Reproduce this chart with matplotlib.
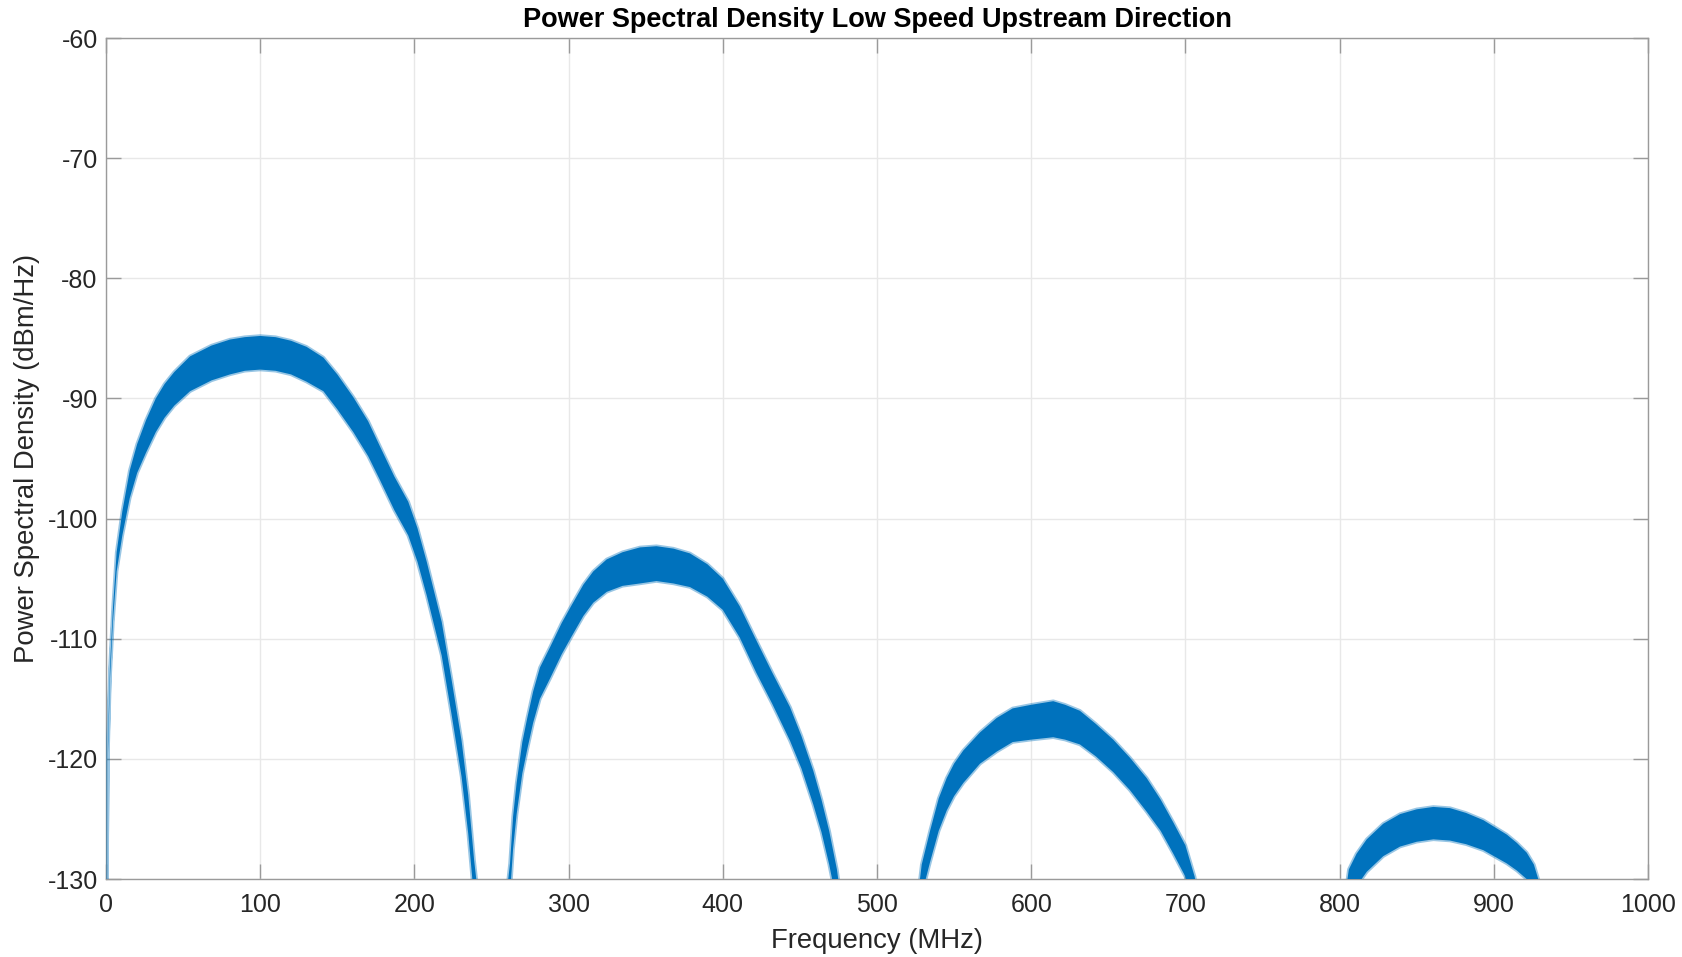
import numpy as np
import matplotlib.pyplot as plt

plt.rcParams['font.family'] = ['Liberation Sans', 'DejaVu Sans']
plt.rcParams['axes.unicode_minus'] = False

# PSD band: frequency (MHz), lower and upper edge (dBm/Hz)
# NaN rows separate the four lobes
freq_mhz = [0.0, 1.3, 2.6, 4.5, 6.9, 10.6, 15.4, 20.2, 26.0, 32.3, 38.0, 44.3, 54.5, 68.4,
            80.4, 90.0, 100.0, 110.0, 120.0, 130.0, 141.0, 150.0, 160.4, 170.0, 177.7,
            187.0, 196.0, 202.0, 208.0, 217.7, 224.1, 230.6, 234.9, 238.7, 241.0,
            np.nan,
            260.0, 262.0, 264.0, 266.3, 270.0, 273.2, 277.0, 281.4, 288.0, 295.5, 302.0,
            309.6, 316.0, 324.7, 335.0, 346.3, 357.0, 368.0, 378.7, 390.0, 400.0, 411.0,
            421.6, 432.0, 443.6, 451.0, 458.7, 464.0, 469.0, 474.0, 477.0,
            np.nan,
            526.5, 529.0, 534.4, 540.0, 545.2, 550.0, 556.0, 566.8, 577.6, 588.0, 600.0,
            614.3, 622.0, 631.6, 642.0, 653.2, 664.0, 674.9, 684.0, 692.2, 700.0, 706.0,
            709.0,
            np.nan,
            803.5, 806.0, 811.0, 817.6, 828.3, 839.2, 850.0, 860.8, 871.6, 882.0, 893.2,
            908.4, 915.0, 921.3, 926.0, 930.0, 932.0]

psd_low = [-140.0, -119.5, -113.3, -108.6, -104.4, -101.4, -98.3, -96.2, -94.5, -92.8, -91.6,
           -90.6, -89.4, -88.5, -88.0, -87.7, -87.6, -87.7, -88.0, -88.6, -89.4, -90.9,
           -92.8, -94.8, -96.8, -99.3, -101.4, -103.6, -106.4, -111.4, -116.3, -121.5,
           -126.2, -131.6, -134.0,
           np.nan,
           -134.0, -131.3, -127.5, -124.6, -121.2, -119.2, -117.0, -115.0, -113.3, -111.3,
           -109.8, -108.1, -107.0, -106.1, -105.6, -105.4, -105.2, -105.4, -105.7, -106.5,
           -107.6, -109.9, -112.8, -115.4, -118.5, -120.8, -123.8, -126.1, -128.8, -132.0,
           -134.0,
           np.nan,
           -134.0, -131.3, -128.6, -126.0, -124.3, -123.1, -122.0, -120.4, -119.4, -118.6,
           -118.4, -118.2, -118.4, -118.8, -119.8, -121.1, -122.6, -124.4, -126.0, -127.9,
           -129.8, -132.5, -134.0,
           np.nan,
           -134.0, -131.8, -130.6, -129.4, -128.1, -127.3, -126.9, -126.7, -126.8, -127.1,
           -127.6, -128.7, -129.3, -130.0, -131.0, -133.0, -134.0]

psd_high = [-140.0, -118.5, -112.3, -107.5, -102.8, -99.4, -96.0, -93.8, -91.8, -90.0, -88.8,
            -87.8, -86.5, -85.6, -85.1, -84.9, -84.8, -84.9, -85.2, -85.7, -86.6, -88.0,
            -89.9, -91.9, -94.0, -96.5, -98.6, -100.8, -103.6, -108.6, -113.4, -118.5,
            -123.0, -128.4, -131.0,
            np.nan,
            -131.0, -128.7, -124.8, -122.0, -118.6, -116.6, -114.4, -112.4, -110.7, -108.7,
            -107.2, -105.5, -104.4, -103.4, -102.8, -102.4, -102.3, -102.5, -102.9, -103.8,
            -105.0, -107.3, -110.1, -112.8, -115.7, -118.1, -121.0, -123.4, -126.0, -129.2,
            -132.0,
            np.nan,
            -131.5, -128.8, -126.0, -123.3, -121.6, -120.4, -119.3, -117.8, -116.6, -115.8,
            -115.5, -115.2, -115.5, -116.0, -117.1, -118.4, -119.9, -121.6, -123.4, -125.3,
            -127.2, -129.8, -132.0,
            np.nan,
            -131.5, -129.2, -127.9, -126.7, -125.4, -124.6, -124.2, -124.0, -124.1, -124.5,
            -125.1, -126.3, -127.0, -127.8, -128.8, -130.5, -132.0]

x_ticks = [0, 100, 200, 300, 400, 500, 600, 700, 800, 900, 1000]
y_ticks = [-130, -120, -110, -100, -90, -80, -70, -60]

blue = '#0072BD'
text_col = '#262626'

fig = plt.figure(figsize=(16.83, 9.57), dpi=100)
ax = fig.add_axes([106 / 1683, 78 / 957, 1542 / 1683, 841 / 957])

f = np.array(freq_mhz)
lo = np.array(psd_low)
hi = np.array(psd_high)
# solid core plus a soft translucent rim, like the noisy trace edges
ax.fill_between(f, lo, hi, facecolor=blue, edgecolor=(0.0, 0.447, 0.741, 0.4),
                linewidth=2.5, zorder=3)

ax.set_xlim(0, 1000)
ax.set_ylim(-130, -60)
ax.set_xticks(x_ticks)
ax.set_yticks(y_ticks)

ax.grid(True, color='#e8e8e8', linewidth=1.0)
ax.set_axisbelow(True)
for s in ax.spines.values():
    s.set_color('#9a9a9a')
    s.set_linewidth(1.0)
ax.tick_params(direction='in', length=11, width=1.0, color='#9a9a9a',
               labelsize=18, labelcolor=text_col, top=True, right=True, pad=6)
ax.tick_params(axis='x', pad=10)

ax.set_title('Power Spectral Density Low Speed Upstream Direction',
             fontsize=19.5, fontweight='bold', color='black', pad=8)
ax.set_xlabel('Frequency (MHz)', fontsize=19.8, color=text_col, labelpad=8)
ax.set_ylabel('Power Spectral Density (dBm/Hz)', fontsize=19.8, color=text_col, labelpad=5)

plt.savefig('out.png', dpi=100)
